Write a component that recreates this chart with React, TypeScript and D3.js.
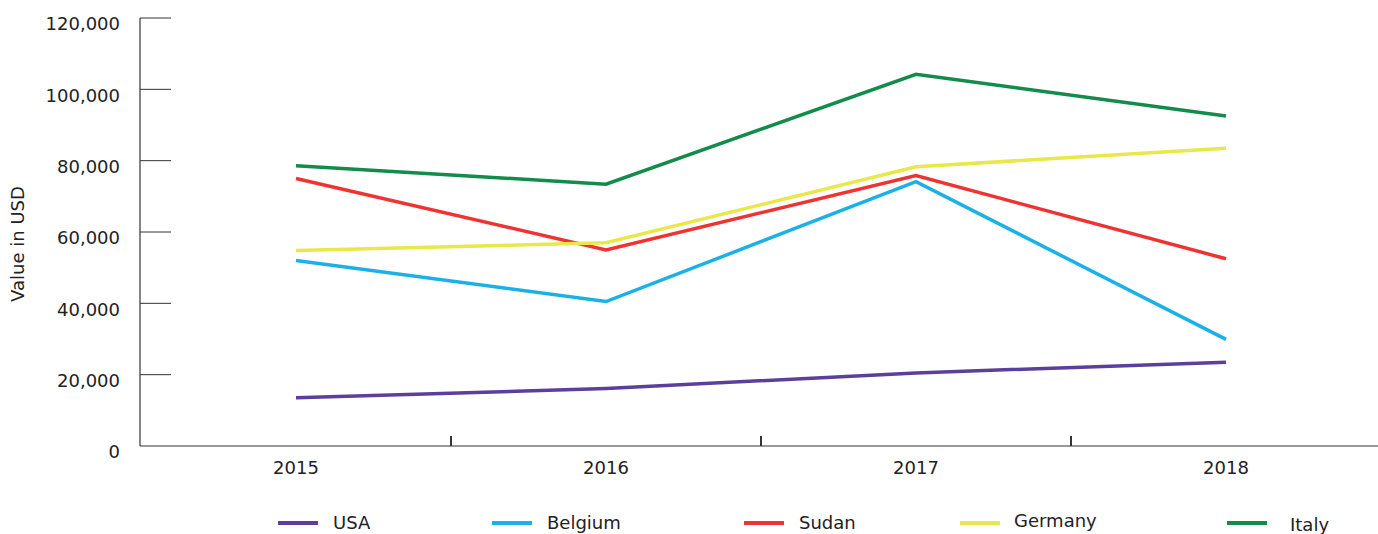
import React from "react";
import * as d3 from "d3";

const years = ["2015", "2016", "2017", "2018"];
const seriesNames = ["USA", "Belgium", "Sudan", "Germany", "Italy"];
const usa = [13500, 16100, 20500, 23500];
const belgium = [52000, 40500, 74100, 29900];
const sudan = [75000, 55000, 75800, 52500];
const germany = [54800, 57000, 78300, 83500];
const italy = [78600, 73400, 104200, 92500];
const yTicks = [0, 20000, 40000, 60000, 80000, 100000, 120000];

const colors = ["#5c3f9c", "#1cb1e6", "#ee3333", "#e8e84a", "#128b4b"];
const legendX = [278, 492, 744, 960, 1227];
const legendTextDx = [55, 55, 55, 54, 63];
const legendDy = [0, 0, 0, -2, 2];

export default function App() {
  const W = 1378, H = 534;
  const left = 140, top = 18, bottom = 446;
  const x = d3.scaleBand<string>().domain(years).range([141, 1381]);
  const y = d3.scaleLinear().domain([0, 120000]).range([bottom, top]);
  const data = [usa, belgium, sudan, germany, italy];
  const line = d3
    .line<number>()
    .x((_, i) => (x(years[i]) as number) + x.bandwidth() / 2)
    .y((v) => y(v));
  const fmt = d3.format(",");
  const font = "'DejaVu Sans', Verdana, sans-serif";
  const txt = "#222";
  return (
    <svg
      width={W}
      height={H}
      style={{ position: "absolute", left: 0, top: 0, background: "#fff" }}
      fontFamily={font}
    >
      {/* y axis */}
      <line x1={left} x2={left} y1={top} y2={bottom} stroke="#333" strokeWidth={1.2} />
      {yTicks.map((t) => (
        <g key={t}>
          {t > 0 && (
            <line x1={left} x2={left + 31} y1={y(t)} y2={y(t)} stroke="#333" strokeWidth={1} />
          )}
          <text x={120} y={y(t) + 6} dy="0.35em" textAnchor="end" fontSize={18} fill={txt}>
            {fmt(t)}
          </text>
        </g>
      ))}
      <text
        transform={`translate(24,${(top + bottom) / 2 + 12}) rotate(-90)`}
        textAnchor="middle"
        fontSize={18}
        fill={txt}
      >
        Value in USD
      </text>
      {/* x axis */}
      <line x1={left} x2={W} y1={bottom} y2={bottom} stroke="#333" strokeWidth={1.2} />
      {years.slice(0, -1).map((yr) => (
        <line
          key={yr}
          x1={(x(yr) as number) + x.bandwidth()}
          x2={(x(yr) as number) + x.bandwidth()}
          y1={bottom}
          y2={bottom - 10}
          stroke="#333"
          strokeWidth={2}
        />
      ))}
      {years.map((yr) => (
        <text
          key={yr}
          x={(x(yr) as number) + x.bandwidth() / 2}
          y={468}
          dy="0.35em"
          textAnchor="middle"
          fontSize={18}
          fill={txt}
        >
          {yr}
        </text>
      ))}
      {/* lines */}
      {data.map((d, i) => (
        <path
          key={seriesNames[i]}
          d={line(d) || ""}
          fill="none"
          stroke={colors[i]}
          strokeWidth={3.5}
          strokeLinejoin="miter"
        />
      ))}
      {/* legend */}
      {seriesNames.map((n, i) => (
        <g key={n}>
          <line
            x1={legendX[i]}
            x2={legendX[i] + 40}
            y1={523}
            y2={523}
            stroke={colors[i]}
            strokeWidth={4}
          />
          <text
            x={legendX[i] + legendTextDx[i]}
            y={523 + legendDy[i]}
            dy="0.35em"
            fontSize={18}
            fill={txt}
          >
            {n}
          </text>
        </g>
      ))}
    </svg>
  );
}
